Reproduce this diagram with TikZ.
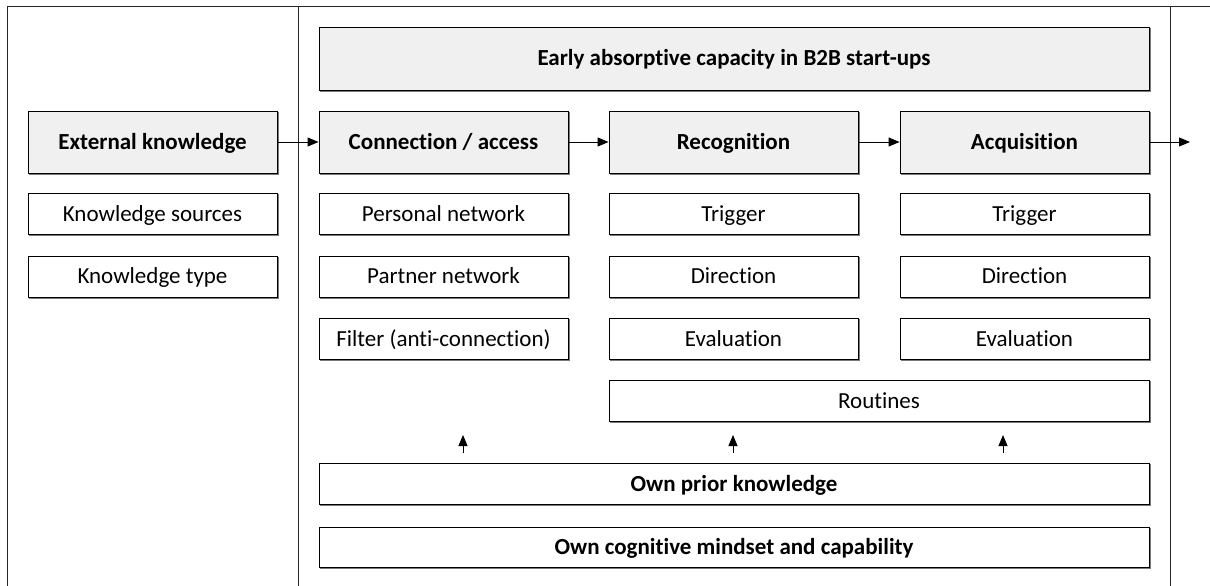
\documentclass[tikz,border=0pt]{standalone}
\usepackage{fontspec}
\setmainfont{Carlito}[Ligatures=NoCommon]
\usetikzlibrary{arrows.meta}
\definecolor{boxfill}{HTML}{F0F0F0}
\definecolor{shadowgray}{HTML}{7A7A7A}
\newcommand{\boxfont}{\fontsize{23}{27}\selectfont}
\tikzset{
  x=1pt, y=-1pt,
  frameline/.style={line width=1pt, draw=black!85},
  basebox/.style={draw=black, line width=0.9pt, inner sep=0pt, align=center,
    font=\boxfont, text height=14.8pt, text depth=0pt},
  shadowed/.style={basebox,
    preaction={draw=shadowgray, fill=shadowgray, line width=0.9pt, transform canvas={shift={(1.3pt,-1.3pt)}}}},
  headbox/.style={shadowed, fill=boxfill, font=\boxfont\bfseries,
    minimum width=249pt, minimum height=62pt},
  itembox/.style={shadowed, fill=white, minimum width=249pt, minimum height=41pt},
  widebox/.style={shadowed, fill=white, font=\boxfont\bfseries,
    minimum width=830pt, minimum height=41pt},
  flow/.style={line width=0.9pt, -{Triangle[length=11pt,width=9pt]}},
}
\begin{document}
\begin{tikzpicture}
\useasboundingbox (0,0) rectangle (1210,586);

% frame lines
\draw[frameline] (7,586) -- (7,7) -- (1210,7);
\draw[frameline] (298,7) -- (298,586);
\draw[frameline] (1170,7) -- (1170,586);

% title
\node[headbox, minimum width=830pt, minimum height=63pt] (title) at (734,58.5) {Early absorptive capacity in B2B start-ups};

% header row
\node[headbox] (ext) at (152.5,142) {External knowledge};
\node[headbox] (con) at (443.5,142) {Connection / access};
\node[headbox] (rec) at (733.5,142) {Recognition};
\node[headbox] (acq) at (1024.5,142) {Acquisition};

% left column items
\node[itembox] (ks) at (152.5,214) {Knowledge sources};
\node[itembox] (kt) at (152.5,276.5) {Knowledge type};

% connection column
\node[itembox] (pn) at (443.5,214) {Personal network};
\node[itembox] (prn) at (443.5,276.5) {Partner network};
\node[itembox] (flt) at (443.5,339) {Filter (anti-connection)};

% recognition column
\node[itembox] (rt) at (733.5,214) {Trigger};
\node[itembox] (rd) at (733.5,276.5) {Direction};
\node[itembox] (re) at (733.5,339) {Evaluation};

% acquisition column
\node[itembox] (at) at (1024.5,214) {Trigger};
\node[itembox] (ad) at (1024.5,276.5) {Direction};
\node[itembox] (ae) at (1024.5,339) {Evaluation};

% routines
\node[itembox, minimum width=540pt] (rout) at (879,401) {Routines};

% foundations
\node[widebox] (prior) at (734,484) {Own prior knowledge};
\node[widebox, minimum height=40pt] (cog) at (734,547) {Own cognitive mindset and capability};

% flow arrows
\draw[flow] (ext.east) -- (con.west);
\draw[flow] (con.east) -- (rec.west);
\draw[flow] (rec.east) -- (acq.west);
\coordinate (out) at (1190,142);
\draw[flow] (acq.east) -- (out);

% upward arrows from prior knowledge
\foreach \i/\x in {1/463, 2/733, 3/1003} {
  \coordinate (s\i) at (\x,453);
  \coordinate (u\i) at (\x,435);
  \draw[flow] (s\i) -- (u\i);
}
\end{tikzpicture}
\end{document}
